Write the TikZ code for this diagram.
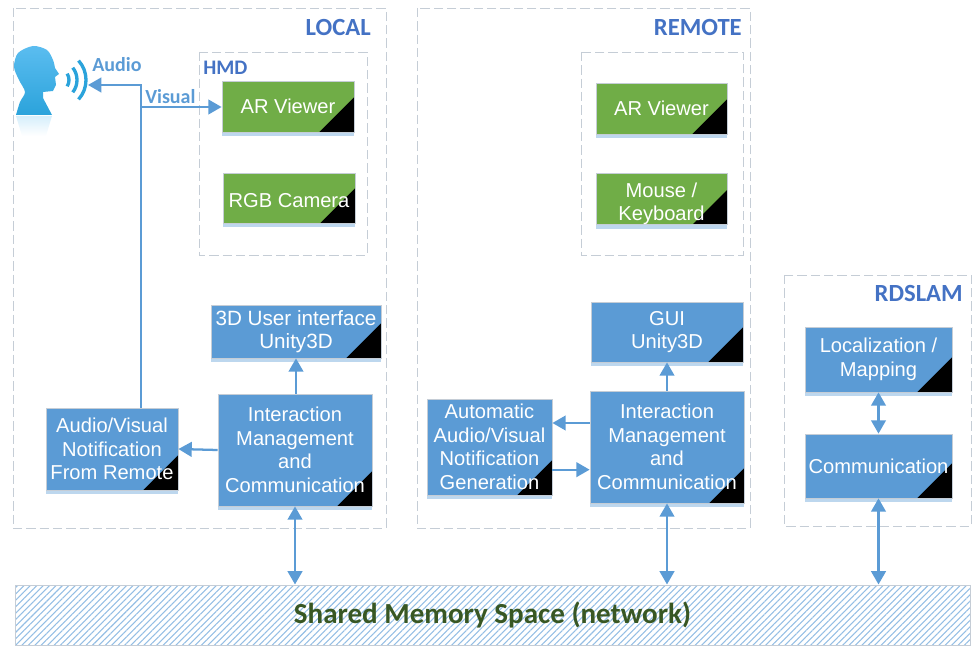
\documentclass[tikz,border=0pt]{standalone}
\usepackage{fontspec}
\setmainfont{Liberation Sans}
\newfontfamily\calibrifont{Carlito}
\usetikzlibrary{arrows.meta,patterns.meta,positioning}
\definecolor{boxblue}{HTML}{5B9BD5}
\definecolor{boxgreen}{HTML}{70AD47}
\definecolor{titleblue}{HTML}{4472C4}
\definecolor{edgegrey}{HTML}{C5CDD6}
\definecolor{memgreen}{HTML}{385723}
\definecolor{headtop}{HTML}{5BBDF0}
\definecolor{headlow}{HTML}{2BA3DB}
\def\pxu{0.75pt}
\tikzset{
    cornerbox/.style={draw=edgegrey,line width=0.6pt,fill=boxblue,text=white,inner sep=0pt,align=center,
        font=\fontsize{15.1}{17.7}\selectfont,
        preaction={draw=none,fill=boxblue!40,transform canvas={yshift=-3pt}},
        path picture={\fill[black] (path picture bounding box.south east) -- ++(-26pt,0) -- ++(26pt,26pt) -- cycle;}},
    greenbox/.style={cornerbox,fill=boxgreen},
    zone/.style={draw=edgegrey,dashed,line width=0.7pt,dash pattern=on 7pt off 3pt},
    zonetitle/.style={text=titleblue,inner sep=0pt,font=\calibrifont\fontsize{18.5}{20}\selectfont\bfseries},
    linklabel/.style={text=boxblue,inner sep=0pt,font=\calibrifont\fontsize{15}{17}\selectfont\bfseries},
    link/.style={boxblue,line width=1.7pt,-{Triangle[length=10pt,width=11pt]}},
    duplex/.style={boxblue,line width=1.7pt,{Triangle[length=10pt,width=11pt]}-{Triangle[length=10pt,width=11pt]}}
}

\begin{document}
\begin{tikzpicture}[x=0.75pt,y=-0.75pt]
    \useasboundingbox (0,0) rectangle (973,648);

    % zones
    \draw[zone] (13,8) rectangle (386,528);
    \draw[zone] (199,52) rectangle (367,255);
    \draw[zone] (417,8) rectangle (750,528);
    \draw[zone] (581,52) rectangle (743,255);
    \draw[zone] (784,275) rectangle (971,526);

    \node[zonetitle,anchor=east] (localtitle) at (371,28) {LOCAL};
    \node[zonetitle,anchor=west,font=\calibrifont\fontsize{15.5}{18}\selectfont\bfseries] (hmdtitle) at (203,68) {HMD};
    \node[zonetitle,anchor=east] (remotetitle) at (742,28) {REMOTE};
    \node[zonetitle,anchor=east] (slamtitle) at (963,293) {RDSLAM};

    % speaker
    \shade[top color=headtop!25,bottom color=white] (16,116) -- (52,116) -- (46,136) -- (22,136) -- cycle;
    \shade[top color=headtop,bottom color=headlow] plot[smooth] coordinates {(16,115) (20,102) (25,92) (19,80) (14,67) (18,53) (33,46) (47,50) (53,60) (55,68)}
        -- (59,74) -- (55,77) -- (56,85) -- (53,91) -- (43,92) -- (43,98) -- (52,115) -- cycle;
    \foreach \r/\s in {12/32,20/38,29/42}
        \draw[headlow,line width=2.5pt] (57,80) ++(-\s:\r) arc (-\s:\s:\r);

    \node[linklabel,anchor=west] (audiolabel) at (92,65) {Audio};
    \node[linklabel,anchor=west] (visuallabel) at (145,97) {Visual};

    % local
    \node[greenbox,minimum width=132*\pxu,minimum height=51*\pxu] (arlocal) at (288,106.5) {AR Viewer};
    \node[greenbox,minimum width=132*\pxu,minimum height=50*\pxu] (rgb) at (289,198) {\rule{0pt}{14pt}RGB Camera};
    \node[cornerbox,font=\fontsize{15.5}{17.7}\selectfont,minimum width=170*\pxu,minimum height=53*\pxu] (uilocal) at (296,331.5) {3D User interface\\Unity3D};
    \node[cornerbox,minimum width=154*\pxu,minimum height=112*\pxu] (intlocal) at (295,450) {Interaction\\Management\\and\\Communication};
    \node[cornerbox,minimum width=132*\pxu,minimum height=82*\pxu] (notelocal) at (112,449) {Audio/Visual\\Notification\\From Remote};

    % remote
    \node[greenbox,minimum width=131*\pxu,minimum height=51*\pxu] (arremote) at (661.5,108.5) {AR Viewer};
    \node[greenbox,minimum width=131*\pxu,minimum height=50*\pxu] (mouse) at (661.5,199) {\rule{0pt}{18pt}Mouse /\\Keyboard};
    \node[cornerbox,minimum width=152*\pxu,minimum height=60*\pxu] (guiremote) at (667,332) {GUI\\Unity3D};
    \node[cornerbox,minimum width=154*\pxu,minimum height=112*\pxu] (intremote) at (667,447) {Interaction\\Management\\and\\Communication};
    \node[cornerbox,minimum width=125*\pxu,minimum height=96*\pxu] (noteremote) at (489.5,447) {Automatic\\Audio/Visual\\Notification\\Generation};

    % rdslam
    \node[cornerbox,minimum width=147*\pxu,minimum height=65*\pxu] (mapping) at (878.5,359.5) {Localization /\\Mapping};
    \node[cornerbox,minimum width=147*\pxu,minimum height=64*\pxu] (commslam) at (878.5,466) {Communication};

    % shared memory
    \node[draw=edgegrey,line width=0.6pt,minimum width=955*\pxu,minimum height=60*\pxu,inner sep=0pt,
        pattern={Lines[angle=45,distance=3.4pt,line width=0.8pt]},pattern color=boxblue!65,
        text=memgreen,font=\calibrifont\fontsize{21.8}{24}\selectfont\bfseries] (shared) at (492.5,615) {Shared Memory Space (network)};

    % connectors
    \coordinate (earpoint) at (88,85);
    \coordinate (corner) at (141,85);
    \coordinate (branch) at (141,107);
    \draw[link] (notelocal.north -| corner) -- (corner) -- (earpoint);
    \draw[link] (branch) -- (branch -| arlocal.west);
    \draw[link] (intlocal.north -| uilocal.south) -- (uilocal.south);
    \draw[link] (intlocal.west) -- (notelocal.east);
    \draw[duplex] (intlocal.south) -- (intlocal.south |- shared.north);

    \draw[link] (intremote.north) -- (guiremote.south);
    \draw[link] ([yshift=18pt]intremote.west) -- ([yshift=18pt]intremote.west -| noteremote.east);
    \draw[link] ([yshift=-17pt]noteremote.east) -- ([yshift=-17pt]noteremote.east -| intremote.west);
    \draw[duplex] (intremote.south) -- (intremote.south |- shared.north);

    \draw[duplex] (mapping.south) -- (commslam.north);
    \draw[duplex] (commslam.south) -- (commslam.south |- shared.north);
\end{tikzpicture}
\end{document}
